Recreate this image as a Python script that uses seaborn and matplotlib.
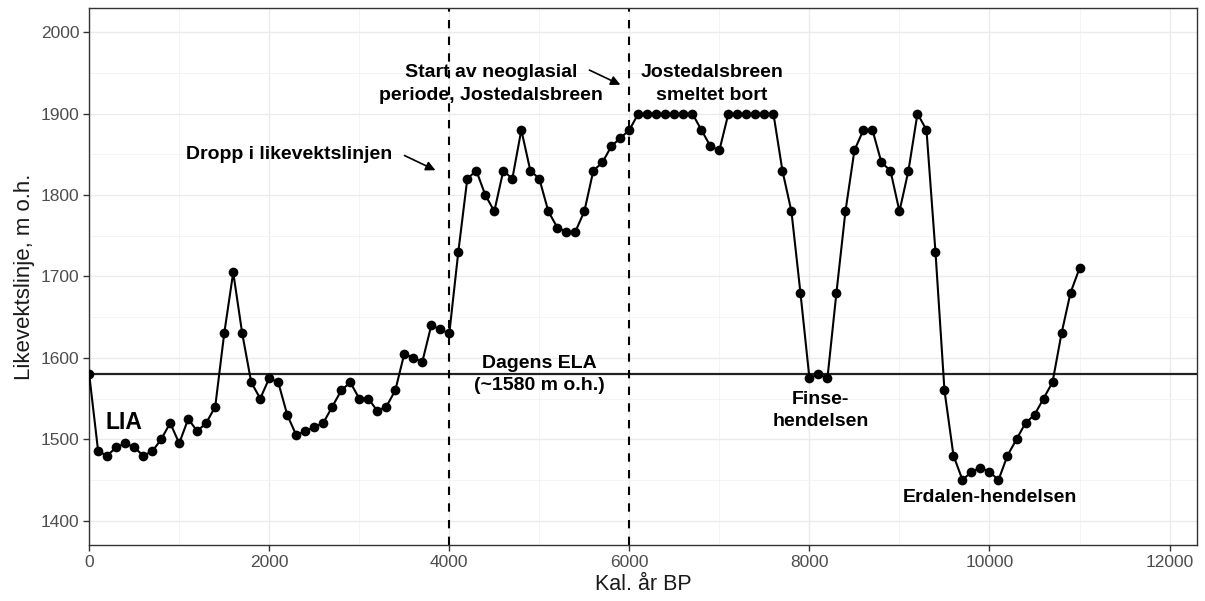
import numpy as np
import pandas as pd
import matplotlib
matplotlib.use("Agg")
import matplotlib.pyplot as plt
from matplotlib.ticker import MultipleLocator
import seaborn as sns

# kalibrerte år BP og likevektslinje (m o.h.)
years = list(range(0, 11100, 100))
ela = [1580, 1485, 1480, 1490, 1495, 1490, 1480, 1485, 1500, 1520,
       1495, 1525, 1510, 1520, 1540, 1630, 1705, 1630, 1570, 1550,
       1575, 1570, 1530, 1505, 1510, 1515, 1520, 1540, 1560, 1570,
       1550, 1550, 1535, 1540, 1560, 1605, 1600, 1595, 1640, 1635,
       1630, 1730, 1820, 1830, 1800, 1780, 1830, 1820, 1880, 1830,
       1820, 1780, 1760, 1755, 1755, 1780, 1830, 1840, 1860, 1870,
       1880, 1900, 1900, 1900, 1900, 1900, 1900, 1900, 1880, 1860,
       1855, 1900, 1900, 1900, 1900, 1900, 1900, 1830, 1780, 1680,
       1575, 1580, 1575, 1680, 1780, 1855, 1880, 1880, 1840, 1830,
       1780, 1830, 1900, 1880, 1730, 1560, 1480, 1450, 1460, 1465,
       1460, 1450, 1480, 1500, 1520, 1530, 1550, 1570, 1630, 1680,
       1710]

todays_ela = 1580
event_lines = [4000, 6000]

df = pd.DataFrame({"year": years, "ela": ela})

sns.set_theme(style="white")
plt.rcParams['font.family'] = ['Liberation Sans', 'DejaVu Sans']

fig, ax = plt.subplots(figsize=(12.05, 6.01), dpi=100)
fig.subplots_adjust(left=0.074, right=0.993, bottom=0.093, top=0.987)

# gitter som i theme_bw
ax.xaxis.set_major_locator(MultipleLocator(2000))
ax.xaxis.set_minor_locator(MultipleLocator(1000))
ax.yaxis.set_major_locator(MultipleLocator(100))
ax.yaxis.set_minor_locator(MultipleLocator(50))
ax.grid(which='major', color='#EBEBEB', lw=1.0, zorder=0)
ax.grid(which='minor', color='#F3F3F3', lw=0.6, zorder=0)
ax.set_axisbelow(True)

ax.axhline(todays_ela, color='#222222', lw=1.6, zorder=2)
for x in event_lines:
    ax.axvline(x, color='black', lw=1.5, ls=(0, (4, 4)), zorder=2)

sns.lineplot(data=df, x="year", y="ela", ax=ax, color='black', lw=1.5,
             marker='o', markersize=7, markeredgewidth=0, zorder=3)

ax.set_xlim(0, 12300)
ax.set_ylim(1370, 2030)
ax.set_xlabel("Kal. år BP", fontsize=15.5, color='#1a1a1a', labelpad=3)
ax.set_ylabel("Likevektslinje, m o.h.", fontsize=16, color='#1a1a1a', labelpad=4)
ax.tick_params(which='major', axis='both', length=4, width=1, color='#333333',
               labelsize=12.5, labelcolor='#4D4D4D', bottom=True, left=True, pad=3)
ax.tick_params(which='minor', length=0)
for s in ax.spines.values():
    s.set_color('#333333')
    s.set_linewidth(1.0)

txt = dict(fontweight='bold', fontsize=14, ha='center', va='center', color='black', zorder=4)
ax.text(5000, 1580, "Dagens ELA\n(~1580 m o.h.)", linespacing=1.4, **txt)
ax.text(4463, 1936, "Start av neoglasial\nperiode, Jostedalsbreen", linespacing=1.45, **txt)
ax.text(6916, 1936, "Jostedalsbreen\nsmeltet bort", linespacing=1.45, **txt)
ax.text(8126, 1535, "Finse-\nhendelsen", linespacing=1.4, **txt)
ax.text(10000, 1428, "Erdalen-hendelsen", **txt)
ax.text(2220, 1850, "Dropp i likevektslinjen", **txt)
ax.text(390, 1520, "LIA", fontweight='bold', fontsize=16.5, ha='center', va='center', color='black')

arrow = dict(arrowstyle='-|>', color='black', lw=1.2, mutation_scale=14)
ax.annotate("", xy=(3874, 1829), xytext=(3475, 1850), arrowprops=arrow)
ax.annotate("", xy=(5928, 1934), xytext=(5528, 1955), arrowprops=arrow)

fig.savefig("out.png", dpi=100)
